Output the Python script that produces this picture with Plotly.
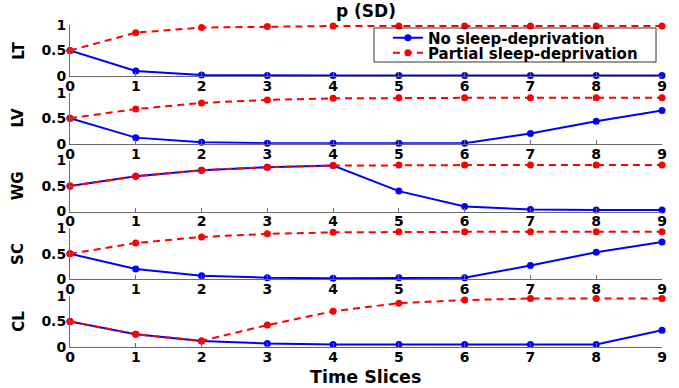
import plotly.graph_objects as go

time_slices = list(range(10))
x_tick_labels = [str(t) for t in time_slices]
y_tick_vals = [0, 0.5, 1]
y_tick_labels = ["0", "0.5", "1"]
panel_names = ["LT", "LV", "WG", "SC", "CL"]

lt_no = [0.5, 0.10, 0.02, 0.01, 0.01, 0.01, 0.01, 0.01, 0.01, 0.01]
lt_psd = [0.5, 0.85, 0.95, 0.97, 0.98, 0.98, 0.98, 0.98, 0.98, 0.98]
lv_no = [0.5, 0.12, 0.03, 0.01, 0.01, 0.01, 0.01, 0.20, 0.44, 0.65]
lv_psd = [0.5, 0.68, 0.80, 0.86, 0.89, 0.90, 0.90, 0.90, 0.90, 0.90]
wg_no = [0.5, 0.69, 0.81, 0.87, 0.90, 0.40, 0.10, 0.04, 0.03, 0.03]
wg_psd = [0.5, 0.69, 0.81, 0.87, 0.90, 0.91, 0.91, 0.91, 0.91, 0.91]
sc_no = [0.5, 0.20, 0.07, 0.03, 0.02, 0.03, 0.03, 0.27, 0.53, 0.73]
sc_psd = [0.5, 0.71, 0.83, 0.89, 0.92, 0.93, 0.93, 0.93, 0.93, 0.93]
cl_no = [0.5, 0.25, 0.12, 0.07, 0.05, 0.05, 0.05, 0.05, 0.05, 0.33]
cl_psd = [0.5, 0.25, 0.12, 0.43, 0.70, 0.86, 0.92, 0.95, 0.95, 0.95]

no_series = [lt_no, lv_no, wg_no, sc_no, cl_no]
psd_series = [lt_psd, lv_psd, wg_psd, sc_psd, cl_psd]

FONT = "DejaVu Sans"
AXC = "#6a6a6a"
BLUE = "#0000ff"
RED = "#ff0000"

W, H = 679, 388
ML, MR, MT, MB = 70, 15, 25, 41
PW = W - ML - MR
PH = H - MT - MB
panel_h = 51
panel_step = 67.75


def px_x(p):
    return (p - ML) / PW


def px_y(p):
    return (H - MB - p) / PH


fig = go.Figure()
layout = {}
for i, name in enumerate(panel_names):
    sfx = "" if i == 0 else str(i + 1)
    top = MT + i * panel_step
    bot = top + panel_h
    dom = [px_y(bot), px_y(top)]
    fig.add_trace(go.Scatter(
        x=time_slices, y=no_series[i], xaxis="x" + sfx, yaxis="y" + sfx,
        mode="lines+markers", name="No sleep-deprivation",
        line=dict(color=BLUE, width=2), marker=dict(color=BLUE, size=7),
        showlegend=(i == 0), legend="legend", cliponaxis=False))
    fig.add_trace(go.Scatter(
        x=time_slices, y=psd_series[i], xaxis="x" + sfx, yaxis="y" + sfx,
        mode="lines+markers", name="Partial sleep-deprivation",
        line=dict(color=RED, width=2, dash="7px,5px"), marker=dict(color=RED, size=7),
        showlegend=(i == 0), legend="legend2", cliponaxis=False))
    layout["xaxis" + sfx] = dict(
        domain=[0, 1], anchor="y" + sfx, range=[0, 9],
        tickvals=time_slices, ticktext=x_tick_labels,
        showline=True, linecolor=AXC, linewidth=1, ticks="inside", ticklen=4,
        tickcolor=AXC, showgrid=False, zeroline=False, ticklabelstandoff=-3,
        tickfont=dict(family=FONT, size=14, color="black", weight="bold"))
    layout["yaxis" + sfx] = dict(
        domain=dom, anchor="x" + sfx, range=[0, 1],
        tickmode="array", tickvals=y_tick_vals, ticktext=y_tick_labels,
        showline=True, linecolor=AXC, linewidth=1, ticks="inside", ticklen=4,
        tickcolor=AXC, showgrid=False, zeroline=False,
        tickfont=dict(family=FONT, size=14, color="black", weight="bold"))
    fig.add_annotation(
        text=name, xref="paper", yref="paper", x=px_x(18),
        y=(dom[0] + dom[1]) / 2, xanchor="center", yanchor="middle",
        textangle=-90, showarrow=False,
        font=dict(family=FONT, size=15, color="black", weight="bold"))

fig.add_annotation(
    text="p (SD)", xref="paper", yref="paper", x=px_x(367), y=px_y(11),
    xanchor="center", yanchor="middle", showarrow=False,
    font=dict(family=FONT, size=17, color="black", weight="bold"))
fig.add_annotation(
    text="Time Slices", xref="paper", yref="paper", x=px_x(366),
    y=px_y(377), xanchor="center", yanchor="middle", showarrow=False,
    font=dict(family=FONT, size=17.5, color="black", weight="bold"))

# legend frame
fig.add_shape(type="rect", xref="paper", yref="paper",
              x0=px_x(375), x1=px_x(658), y0=px_y(62), y1=px_y(28),
              line=dict(color="#333333", width=1), fillcolor="rgba(0,0,0,0)")

legend_font = dict(family=FONT, size=15, color="black", weight="bold")
fig.update_layout(
    width=W, height=H, margin=dict(l=ML, r=MR, t=MT, b=MB),
    paper_bgcolor="white", plot_bgcolor="white",
    legend=dict(x=px_x(389), y=px_y(38), xanchor="left", yanchor="middle",
                bgcolor="rgba(0,0,0,0)", borderwidth=0, font=legend_font),
    legend2=dict(x=px_x(389), y=px_y(53), xanchor="left", yanchor="middle",
                 bgcolor="rgba(0,0,0,0)", borderwidth=0, font=legend_font),
    **layout)

fig.write_html("out.html")
